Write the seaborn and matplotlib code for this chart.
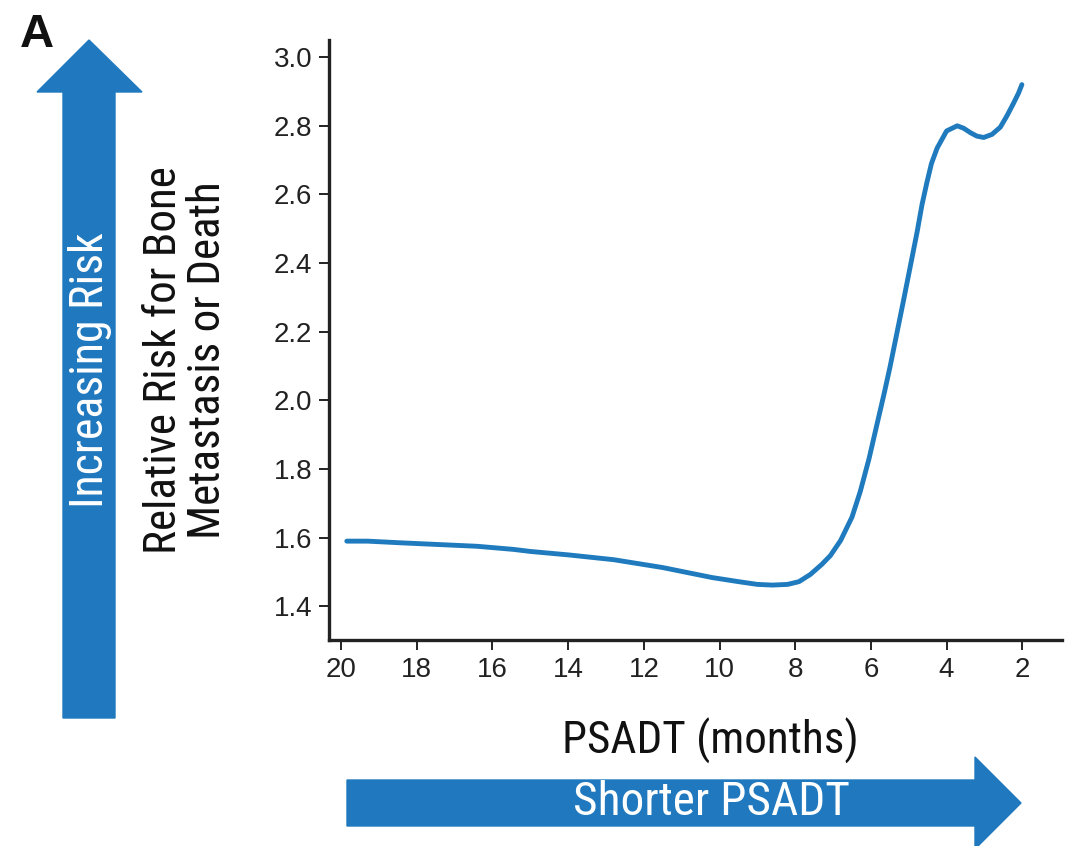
import matplotlib
matplotlib.use("Agg")
import matplotlib.pyplot as plt
import seaborn as sns
import pandas as pd
from matplotlib.patches import Polygon

# Data
psadt = [19.85, 19.3, 18.4, 17.4, 16.4, 15.45, 15.0, 14.0, 12.8, 11.5, 10.2, 9.5, 9.0, 8.6, 8.2,
         7.9, 7.6, 7.3, 7.07, 6.8, 6.5, 6.28, 6.05, 5.84, 5.65, 5.49, 5.14, 4.78, 4.65, 4.52, 4.4, 4.25, 4.0,
         3.72, 3.55, 3.37, 3.2, 3.02, 2.8, 2.58, 2.4, 2.23, 2.1, 2.01]
risk = [1.590, 1.590, 1.585, 1.580, 1.575, 1.566, 1.560, 1.550, 1.536, 1.513, 1.484, 1.472, 1.464, 1.462, 1.464,
        1.472, 1.493, 1.522, 1.548, 1.592, 1.660, 1.735, 1.830, 1.930, 2.020, 2.100, 2.290, 2.490, 2.570, 2.635,
        2.690, 2.735, 2.785,
        2.800, 2.793, 2.780, 2.770, 2.766, 2.775, 2.796, 2.830, 2.866, 2.895, 2.920]
xticks = [20, 18, 16, 14, 12, 10, 8, 6, 4, 2]
yticks = [1.4, 1.6, 1.8, 2.0, 2.2, 2.4, 2.6, 2.8, 3.0]

df = pd.DataFrame({"PSADT": psadt, "Risk": risk})

sns.set_theme(style="ticks")
COND = ['Roboto Condensed', 'DejaVu Sans']
plt.rcParams['font.family'] = ['Liberation Sans', 'DejaVu Sans']

W, H = 1073, 846
fig = plt.figure(figsize=(W / 100, H / 100), dpi=100)
ax = fig.add_axes([329 / W, 1 - 640 / H, (1062 - 329) / W, (640 - 40) / H])

blue = "#1f7bbd"
sns.lineplot(data=df, x="PSADT", y="Risk", ax=ax, color=blue, linewidth=3.5, sort=False)
ax.lines[0].set_solid_joinstyle("round")
ax.lines[0].set_solid_capstyle("round")

ax.set_xlim(20.32, 0.95)
ax.set_ylim(1.302, 3.05)
ax.set_xticks(xticks)
ax.set_xticklabels([str(t) for t in xticks])
ax.set_yticks(yticks)
ax.set_yticklabels([f"{t:.1f}" for t in yticks])
for s in ["top", "right"]:
    ax.spines[s].set_visible(False)
for s in ["left", "bottom"]:
    ax.spines[s].set_linewidth(2.4)
    ax.spines[s].set_color("#222222")
ax.tick_params(axis="both", direction="out", length=7, width=1.4, color="#222222",
               labelsize=20, labelcolor="#222222", pad=5)
ax.set_xlabel("PSADT (months)", fontsize=32.5, color="#111111", family=COND)
ax.xaxis.label.set_va("center")
ax.xaxis.set_label_coords((710 - 329) / 733, (640 - 741) / 600)
ax.set_ylabel("Relative Risk for Bone\nMetastasis or Death", fontsize=32.5, color="#111111",
              family=COND, linespacing=1.08)
ax.yaxis.label.set_va("center")
ax.yaxis.set_label_coords((186 - 329) / 733, (640 - 360) / 600)


def P(x, y):
    return (x / W, 1 - y / H)


# Vertical arrow
vert = [P(63, 718), P(115, 718), P(115, 92), P(142, 92), P(89, 40), P(37, 92), P(63, 92)]
fig.patches.append(Polygon(vert, closed=True, transform=fig.transFigure, color="#2079be", zorder=1))
fig.text(*P(90, 370), "Increasing Risk", rotation=90, ha="center", va="center",
         color="white", fontsize=33, family=COND)

# Horizontal arrow
horiz = [P(347, 780), P(975, 780), P(975, 757), P(1021, 803), P(975, 849), P(975, 826), P(347, 826)]
fig.patches.append(Polygon(horiz, closed=True, transform=fig.transFigure, color="#2079be", zorder=1))
fig.text(*P(711, 802), "Shorter PSADT", ha="center", va="center", color="white", fontsize=34, family=COND)

fig.text(*P(20, 47), "A", ha="left", va="baseline", fontsize=34, fontweight="bold",
         color="#111111")

fig.savefig("out.png", dpi=100)
